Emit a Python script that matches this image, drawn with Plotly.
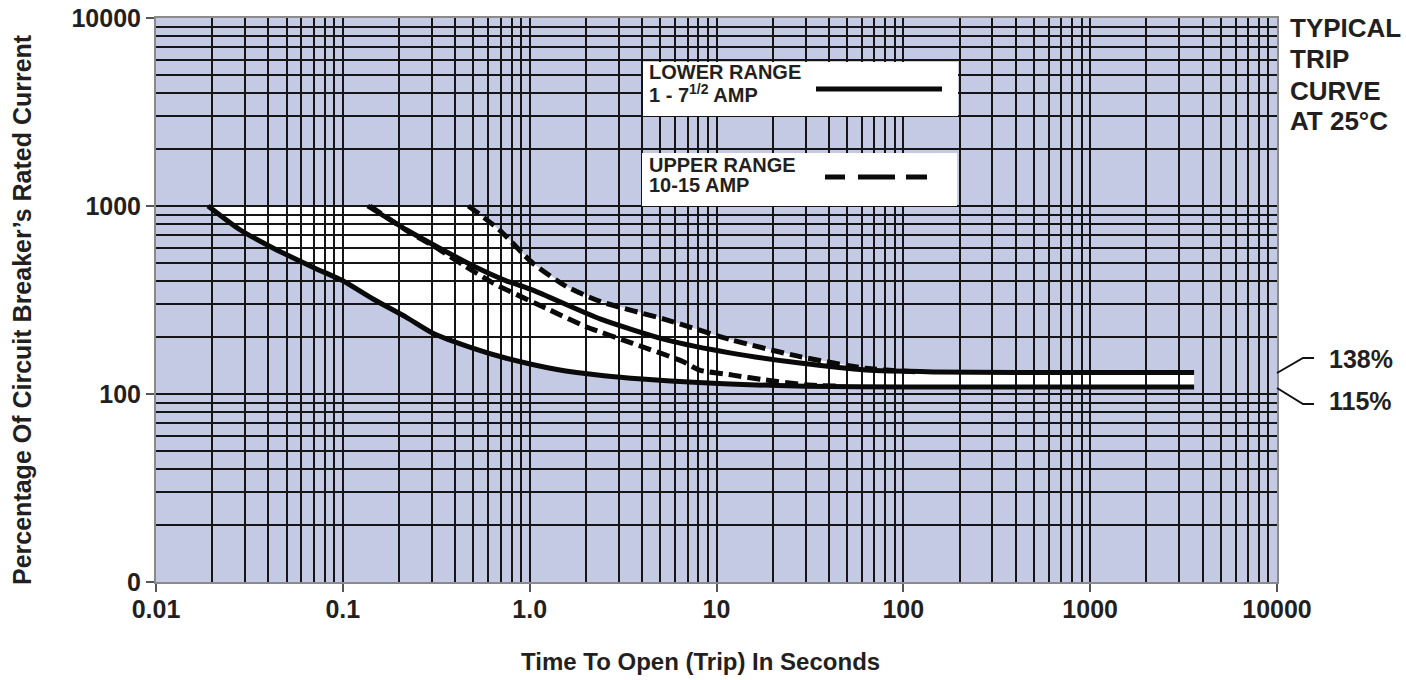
import plotly.graph_objects as go

# ---- data (time in seconds, current in % of rating) ----
lower_min_t = [0.019, 0.028, 0.042, 0.07, 0.1, 0.145, 0.22, 0.3, 0.5, 0.75, 1.4, 2.5, 4, 8, 15, 30, 100, 1000, 3600]
lower_min_i = [1000, 750, 600, 470, 400, 320, 255, 212, 175, 155, 135, 125, 120, 115, 112, 110, 109, 109, 109]

lower_max_t = [0.136, 0.22, 0.33, 0.5, 0.75, 1.04, 2.4, 5.4, 12, 28, 63, 150, 400, 1000, 3600]
lower_max_i = [1000, 745, 596, 480, 400, 357, 250, 194, 165, 146, 134, 131, 130, 130, 130]

upper_min_t = [0.14, 0.22, 0.33, 0.45, 0.64, 1.28, 2.0, 3.56, 6.6, 8.1, 12.2, 18, 30, 45]
upper_min_i = [1000, 740, 585, 480, 388, 280, 228, 186, 149, 134, 126, 119, 112, 110]

upper_max_t = [0.47, 0.69, 1.04, 1.58, 2.4, 5.4, 12, 28, 63, 120]
upper_max_i = [1000, 745, 496, 372, 310, 248, 194, 158, 137, 131]

x_tick_vals = [0.01, 0.1, 1, 10, 100, 1000, 10000]
x_tick_text = ["0.01", "0.1", "1.0", "10", "100", "1000", "10000"]
y_tick_vals = [10, 100, 1000, 10000]
y_tick_text = ["0", "100", "1000", "10000"]

x_minor = [k * d for d in [0.01, 0.1, 1, 10, 100, 1000] for k in range(2, 10)]
y_minor = [k * d for d in [10, 100, 1000] for k in range(2, 10)]

# ---- styling ----
FONT = "Liberation Sans, Arial, sans-serif"
TXT = "#231f20"
BG = "#c4cae4"
GRID = "#151515"

W, H = 1406, 680
L, R, T, B = 156, 129, 18, 98
PW, PH = W - L - R, H - T - B


def px(x):
    return (x - L) / PW


def py(y):
    return 1 - (y - T) / PH


fig = go.Figure()

line_style = dict(color="#0a0a0a", width=5, shape="spline", smoothing=0.6)
fig.add_trace(go.Scatter(x=lower_min_t, y=lower_min_i, mode="lines", line=line_style, showlegend=False))
fig.add_trace(go.Scatter(x=lower_max_t, y=lower_max_i, mode="lines", line=line_style, showlegend=False))
fig.add_trace(go.Scatter(x=upper_min_t, y=upper_min_i, mode="lines",
                         line=dict(line_style, dash="13px,6px"), showlegend=False))
fig.add_trace(go.Scatter(x=upper_max_t, y=upper_max_i, mode="lines",
                         line=dict(line_style, dash="13px,6px"), showlegend=False))

# white band between the lowest and highest curves (under the grid)
pts = list(zip(lower_min_t, lower_min_i))
pts += [(t, i) for t, i in zip(lower_max_t[::-1], lower_max_i[::-1]) if t > upper_max_t[-1]]
pts += list(zip(upper_max_t[::-1], upper_max_i[::-1]))
path = "M " + " L ".join(f"{t},{i}" for t, i in pts) + " Z"

shapes = [dict(type="path", path=path, xref="x", yref="y", layer="below",
               fillcolor="white", line=dict(width=0))]

# legend boxes
shapes.append(dict(type="rect", xref="paper", yref="paper", x0=px(643), x1=px(958), y0=py(116), y1=py(62),
                   fillcolor="white", line=dict(width=0), layer="above"))
shapes.append(dict(type="rect", xref="paper", yref="paper", x0=px(642), x1=px(957), y0=py(206), y1=py(153),
                   fillcolor="white", line=dict(width=0), layer="above"))
shapes.append(dict(type="line", xref="paper", yref="paper", x0=px(816), x1=px(942), y0=py(89), y1=py(89),
                   line=dict(color="#0a0a0a", width=5)))
shapes.append(dict(type="line", xref="paper", yref="paper", x0=px(825), x1=px(927), y0=py(177), y1=py(177),
                   line=dict(color="#0a0a0a", width=5, dash="20px,13px,37px,11px,21px,60px")))

# connectors to the percentage labels
shapes.append(dict(type="path", xref="paper", yref="paper",
                   path=f"M {px(1277)},{py(373)} L {px(1303)},{py(358)} L {px(1314)},{py(358)}",
                   line=dict(color="#111", width=2)))
shapes.append(dict(type="path", xref="paper", yref="paper",
                   path=f"M {px(1277)},{py(388)} L {px(1303)},{py(404)} L {px(1314)},{py(404)}",
                   line=dict(color="#111", width=2)))


def ann(text, x, y, size, xanchor="left", yanchor="middle", angle=0):
    return dict(text=text, xref="paper", yref="paper", x=px(x), y=py(y), showarrow=False,
                xanchor=xanchor, yanchor=yanchor, textangle=angle,
                font=dict(family=FONT, size=size, color=TXT, weight="bold"))


annotations = [
    ann("Percentage Of Circuit Breaker\u2019s Rated Current", 22, 310, 25, xanchor="center", angle=-90),
    ann("Time To Open (Trip) In Seconds", 700, 661, 24, xanchor="center"),
    ann("TYPICAL", 1288, 28, 26),
    ann("TRIP", 1288, 59, 26),
    ann("CURVE", 1288, 91, 26),
    ann("AT 25\u00b0C", 1288, 121, 26),
    ann("138%", 1327, 359, 25),
    ann("115%", 1327, 401, 25),
    ann("LOWER RANGE", 647, 72, 20),
    ann("1 - 7<sup>1/2</sup> AMP", 647, 93, 20),
    ann("UPPER RANGE", 647, 165, 20),
    ann("10-15 AMP", 647, 185, 20),
]

axis_common = dict(
    type="log", showgrid=True, gridcolor=GRID, gridwidth=1.6, automargin=False,
    showline=True, linecolor="#8a8a8a", linewidth=2, mirror=True,
    ticks="outside", ticklen=8, tickwidth=2, tickcolor="#555",
    zeroline=False,
    tickfont=dict(family=FONT, size=25, color=TXT, weight="bold"),
)

fig.update_layout(
    width=W, height=H,
    margin=dict(l=L, r=R, t=T, b=B),
    paper_bgcolor="white", plot_bgcolor=BG,
    xaxis=dict(axis_common, range=[-2, 4], tickmode="array", tickvals=x_tick_vals, ticktext=x_tick_text,
               minor=dict(tickvals=x_minor, showgrid=True, gridcolor=GRID, gridwidth=1.6, ticks="")),
    yaxis=dict(axis_common, range=[1, 4], tickmode="array", tickvals=y_tick_vals, ticktext=y_tick_text,
               minor=dict(tickvals=y_minor, showgrid=True, gridcolor=GRID, gridwidth=1.6, ticks="")),
    shapes=shapes,
    annotations=annotations,
    showlegend=False,
)

try:
    fig.update_xaxes(ticklabelstandoff=-4)
except Exception:
    pass

fig.write_html("out.html", config={"displayModeBar": False},
               post_script="document.body.style.margin='0';document.body.style.overflow='hidden';")
